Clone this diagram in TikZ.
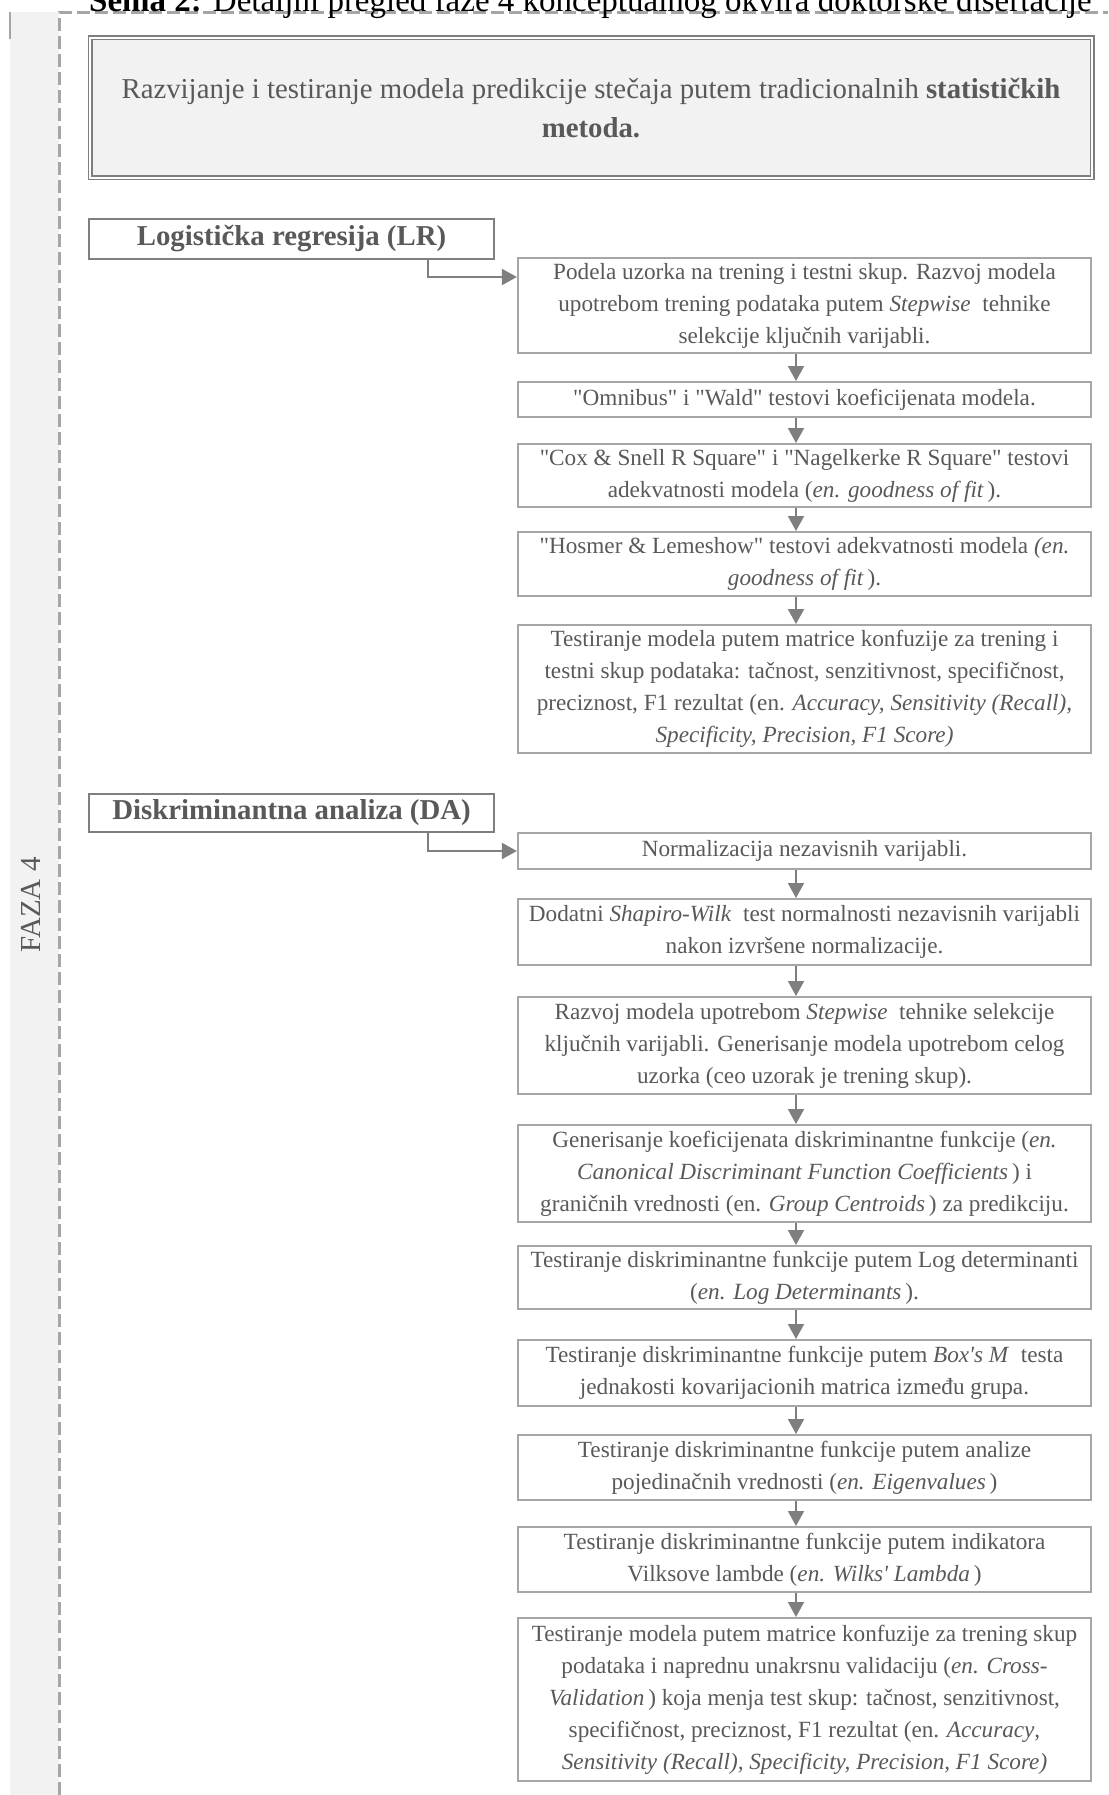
\documentclass[tikz,border=0pt]{standalone}
\usepackage{fontspec}
\newfontfamily\tnr{Liberation Serif}
\usetikzlibrary{arrows.meta}

\definecolor{txtgray}{HTML}{595959}
\definecolor{boxgray}{HTML}{A6A6A6}
\definecolor{lblgray}{HTML}{7F7F7F}
\definecolor{arrgray}{HTML}{7F7F7F}
\definecolor{panelfill}{HTML}{F2F2F2}
\definecolor{dashgray}{HTML}{A6A6A6}

\begin{document}
\begin{tikzpicture}[x=1pt,y=-1pt,
  stepbox/.style={draw=boxgray, line width=2.2pt, fill=white,
    minimum width=573pt, inner sep=0pt, align=center, text=txtgray,
    font=\tnr\fontsize{23.2}{32}\selectfont},
  methodbox/.style={draw=lblgray, line width=2pt, fill=white,
    minimum width=405pt, inner sep=0pt, align=center, text=txtgray,
    font=\tnr\bfseries\fontsize{28.8}{36}\selectfont},
  headbox/.style={draw=lblgray, double=white, double distance=2pt,
    line width=1.5pt, fill=panelfill, minimum width=1002pt,
    minimum height=140pt, inner sep=0pt, align=center, text=txtgray,
    font=\tnr\fontsize{28.8}{39}\selectfont},
  flow/.style={draw=arrgray, line width=2pt,
    -{Triangle[length=15pt,width=16pt]}},
  phaseline/.style={draw=dashgray, line width=3pt, dash pattern=on 13pt off 5pt},
]
\useasboundingbox (0,0) rectangle (1108,1795);

% left phase strip and dashed frame
\fill[panelfill] (10,12) rectangle (59,1795);
\draw[draw=boxgray, line width=2pt] (10,12) -- (10,39);
\draw[phaseline] (59,1795) -- (59,13) -- (1108,13);

% caption (runs past the top edge)
\node[anchor=base west, inner sep=0pt, text=black,
      font=\tnr\fontsize{33}{38}\selectfont] (caption) at (89,12)
  {\textbf{Šema 2:} Detaljni pregled faze 4 konceptualnog okvira doktorske disertacije};

% phase label
\node[rotate=90, text=txtgray, font=\tnr\fontsize{29}{34}\selectfont] (faza) at (31,905) {FAZA 4};

% header
\node[headbox] (hd) at (591,108)
  {Razvijanje i testiranje modela predikcije stečaja putem tradicionalnih \textbf{statističkih}\\
   \textbf{metoda.}};

% method labels
\node[methodbox, minimum height=40pt, anchor=north] (lr) at (291.5,218) {Logistička regresija (LR)};
\node[methodbox, minimum height=38pt, anchor=north] (da) at (291.5,793) {Diskriminantna analiza (DA)};

% logistic regression steps
\node[stepbox, minimum height=95pt, anchor=north] (b1) at (804.5,257)
  {Podela uzorka na trening i testni skup. Razvoj modela\\
   upotrebom trening podataka putem \textit{Stepwise}\ \ tehnike\\
   selekcije ključnih varijabli.};
\node[stepbox, minimum height=35pt, anchor=north] (b2) at (804.5,381)
  {"Omnibus" i "Wald" testovi koeficijenata modela.};
\node[stepbox, minimum height=63pt, anchor=north] (b3) at (804.5,443)
  {"Cox \& Snell R Square" i "Nagelkerke R Square" testovi\\
   adekvatnosti modela (\textit{en. goodness of fit}\,).};
\node[stepbox, minimum height=64pt, anchor=north] (b4) at (804.5,531)
  {"Hosmer \& Lemeshow" testovi adekvatnosti modela \textit{(en.}\\
   \textit{goodness of fit}\,).};
\node[stepbox, minimum height=128pt, anchor=north] (b5) at (804.5,624)
  {Testiranje modela putem matrice konfuzije za trening i\\
   testni skup podataka: tačnost, senzitivnost, specifičnost,\\
   preciznost, F1 rezultat (en. \textit{Accuracy, Sensitivity (Recall),}\\
   \textit{Specificity, Precision, F1 Score)}};

% discriminant analysis steps
\node[stepbox, minimum height=36pt, anchor=north] (b6) at (804.5,832)
  {Normalizacija nezavisnih varijabli.};
\node[stepbox, minimum height=66pt, anchor=north] (b7) at (804.5,898)
  {Dodatni \textit{Shapiro-Wilk}\ \ test normalnosti nezavisnih varijabli\\
   nakon izvršene normalizacije.};
\node[stepbox, minimum height=97pt, anchor=north] (b8) at (804.5,996)
  {Razvoj modela upotrebom \textit{Stepwise}\ \ tehnike selekcije\\
   ključnih varijabli. Generisanje modela upotrebom celog\\
   uzorka (ceo uzorak je trening skup).};
\node[stepbox, minimum height=97pt, anchor=north] (b9) at (804.5,1124)
  {Generisanje koeficijenata diskriminantne funkcije (\textit{en.}\\
   \textit{Canonical Discriminant Function Coefficients}\,) i\\
   graničnih vrednosti (en. \textit{Group Centroids}\,) za predikciju.};
\node[stepbox, minimum height=63pt, anchor=north] (b10) at (804.5,1245)
  {Testiranje diskriminantne funkcije putem Log determinanti\\
   (\textit{en. Log Determinants}\,).};
\node[stepbox, minimum height=66pt, anchor=north] (b11) at (804.5,1339)
  {Testiranje diskriminantne funkcije putem \textit{Box's M}\ \ testa\\
   jednakosti kovarijacionih matrica između grupa.};
\node[stepbox, minimum height=65pt, anchor=north] (b12) at (804.5,1434)
  {Testiranje diskriminantne funkcije putem analize\\
   pojedinačnih vrednosti (\textit{en. Eigenvalues}\,)};
\node[stepbox, minimum height=65pt, anchor=north] (b13) at (804.5,1526)
  {Testiranje diskriminantne funkcije putem indikatora\\
   Vilksove lambde (\textit{en. Wilks' Lambda}\,)};
\node[stepbox, minimum height=163pt, anchor=north] (b14) at (804.5,1617)
  {Testiranje modela putem matrice konfuzije za trening skup\\
   podataka i naprednu unakrsnu validaciju (\textit{en. Cross-}\\
   \textit{Validation}\,) koja menja test skup: tačnost, senzitivnost,\\
   specifičnost, preciznost, F1 rezultat (en. \textit{Accuracy},\\
   \textit{Sensitivity (Recall), Specificity, Precision, F1 Score)}};

% connectors
\coordinate (ax) at (796,0);
\coordinate (lrturn) at (428,277);
\coordinate (daturn) at (428,851);
\draw[flow] (lr.south -| lrturn) |- (b1.west |- lrturn);
\draw[flow] (da.south -| daturn) |- (b6.west |- daturn);
\foreach \a/\b in {b1/b2,b2/b3,b3/b4,b4/b5,b6/b7,b7/b8,b8/b9,b9/b10,b10/b11,b11/b12,b12/b13,b13/b14}
  \draw[flow] (\a.south -| ax) -- (\b.north -| ax);
\end{tikzpicture}
\end{document}
